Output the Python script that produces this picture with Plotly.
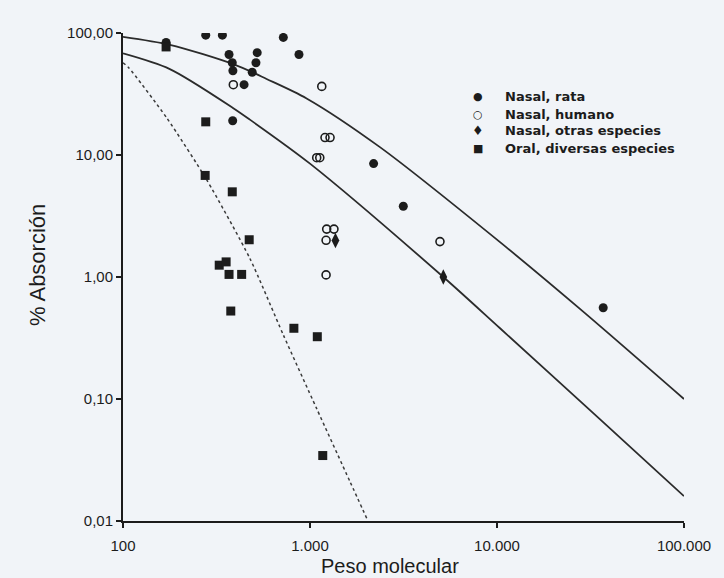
import plotly.graph_objects as go

# ---------------- data ----------------
# Nasal, rata (filled circles)
rata_x = [170, 277, 340, 720, 873, 369, 384, 387, 444, 522, 514, 491, 386, 2188, 3155, 36980]
rata_y = [83.6, 96, 96, 92, 66.7, 66.7, 57, 49, 37.7, 69, 57, 47.7, 19.1, 8.5, 3.8, 0.56]

# Nasal, humano (open circles)
humano_x = [389, 1156, 1203, 1280, 1086, 1128, 4955, 1228, 1343, 1219, 1219]
humano_y = [37.7, 36.5, 13.9, 13.9, 9.5, 9.5, 1.95, 2.47, 2.47, 2.0, 1.04]

# Nasal, otras especies (diamonds)
otras_x = [1368, 5165]
otras_y = [1.99, 1.0]

# Oral, diversas especies (squares)
oral_x = [170, 277, 275, 384, 473, 327, 356, 369, 431, 377, 820, 1094, 1170]
oral_y = [76.9, 18.7, 6.8, 4.99, 2.02, 1.25, 1.33, 1.05, 1.05, 0.526, 0.38, 0.324, 0.0344]

# reference curves
upper_x = [100, 178, 389, 586, 959, 2366, 10380, 28900, 100000]
upper_y = [93, 80, 55.5, 42, 29.1, 11.6, 1.93, 0.52, 0.1]

lower_x = [100, 178, 389, 477, 1000, 5165, 10380, 35600, 100000]
lower_y = [68, 50.6, 24.2, 19.5, 8.5, 1.0, 0.38, 0.068, 0.016]

dotted_x = [100, 107, 171.5, 280.5, 477, 720, 1086, 1637, 2042]
dotted_y = [57, 52.2, 20.1, 6.25, 1.42, 0.335, 0.0833, 0.021, 0.01]

# tick labels
x_ticks = [100, 1000, 10000, 100000]
x_ticktext = ["100", "1.000", "10.000", "100.000"]
y_ticks = [100, 10, 1, 0.1, 0.01]
y_ticktext = ["100,00", "10,00", "1,00", "0,10", "0,01"]

series_names = ["Nasal, rata", "Nasal, humano", "Nasal, otras especies", "Oral, diversas especies"]
series_glyphs = ["\u25CF", "\u25CB", "\u2666", "\u25A0"]

# ---------------- figure ----------------
INK = "#1c1c1c"
BG = "#f1f4f8"
FONT = "Liberation Sans, Arial, sans-serif"

fig = go.Figure()

fig.add_trace(go.Scatter(x=upper_x, y=upper_y, mode="lines",
                         line=dict(color="#2b2b2b", width=1.8, shape="spline", smoothing=0.8),
                         showlegend=False, hoverinfo="skip"))
fig.add_trace(go.Scatter(x=lower_x, y=lower_y, mode="lines",
                         line=dict(color="#2b2b2b", width=1.8, shape="spline", smoothing=0.8),
                         showlegend=False, hoverinfo="skip"))
fig.add_trace(go.Scatter(x=dotted_x, y=dotted_y, mode="lines",
                         line=dict(color="#3a3a3a", width=1.5, dash="dot", shape="spline", smoothing=0.6),
                         showlegend=False, hoverinfo="skip"))

fig.add_trace(go.Scatter(x=rata_x, y=rata_y, mode="markers", name=series_names[0],
                         marker=dict(symbol="circle", size=9, color=INK), showlegend=False))
fig.add_trace(go.Scatter(x=humano_x, y=humano_y, mode="markers", name=series_names[1],
                         marker=dict(symbol="circle-open", size=8, color=INK, line=dict(width=1.6)),
                         showlegend=False))
fig.add_trace(go.Scatter(x=otras_x, y=otras_y, mode="markers", name=series_names[2],
                         marker=dict(symbol="diamond-tall", size=11, color=INK), showlegend=False))
fig.add_trace(go.Scatter(x=oral_x, y=oral_y, mode="markers", name=series_names[3],
                         marker=dict(symbol="square", size=9, color=INK), showlegend=False))

# legend drawn as text rows (symbol glyph + label)
legend_rows_y = [0.8689, 0.8340, 0.7992, 0.7643]
annotations = []
for name, glyph, yy in zip(series_names, series_glyphs, legend_rows_y):
    annotations.append(dict(text=glyph, xref="paper", yref="paper", x=0.6328, y=yy,
                            xanchor="center", yanchor="middle", showarrow=False,
                            font=dict(family="DejaVu Sans", size=11 if glyph != "\u2666" else 13,
                                      color=INK)))
    annotations.append(dict(text=name, xref="paper", yref="paper", x=0.6774, y=yy,
                            xanchor="left", yanchor="middle", showarrow=False,
                            font=dict(family="DejaVu Sans, Liberation Sans", size=13, color=INK,
                                      weight="bold")))

annotations += [
    dict(text="Peso molecular", xref="paper", yref="paper", x=0.476, y=-0.092,
         xanchor="center", yanchor="middle", showarrow=False,
         font=dict(size=20, color=INK)),
    dict(text="% Absorción", xref="paper", yref="paper", x=-0.1515, y=0.5246,
         xanchor="center", yanchor="middle", showarrow=False, textangle=-90,
         font=dict(size=22, color=INK)),
]

fig.update_layout(
    width=724, height=578,
    margin=dict(l=123, r=40, t=33, b=57),
    paper_bgcolor=BG, plot_bgcolor=BG,
    font=dict(family=FONT, color=INK),
    showlegend=False,
    xaxis=dict(type="log", range=[2, 5], tickvals=x_ticks, ticktext=x_ticktext,
               showgrid=False, zeroline=False, showline=True, linecolor=INK, linewidth=2,
               ticks="outside", ticklen=5, tickwidth=1.5, tickcolor=INK,
               tickfont=dict(size=15, color=INK), ticklabelstandoff=5),
    yaxis=dict(type="log", range=[-2, 2], tickvals=y_ticks, ticktext=y_ticktext,
               showgrid=False, zeroline=False, showline=True, linecolor=INK, linewidth=2,
               ticks="outside", ticklen=5, tickwidth=1.5, tickcolor=INK,
               tickfont=dict(size=15, color=INK)),
    annotations=annotations,
)

fig.write_html("out.html", config={"displayModeBar": False},
               post_script="document.body.style.margin='0';document.body.style.background='#f1f4f8';")
